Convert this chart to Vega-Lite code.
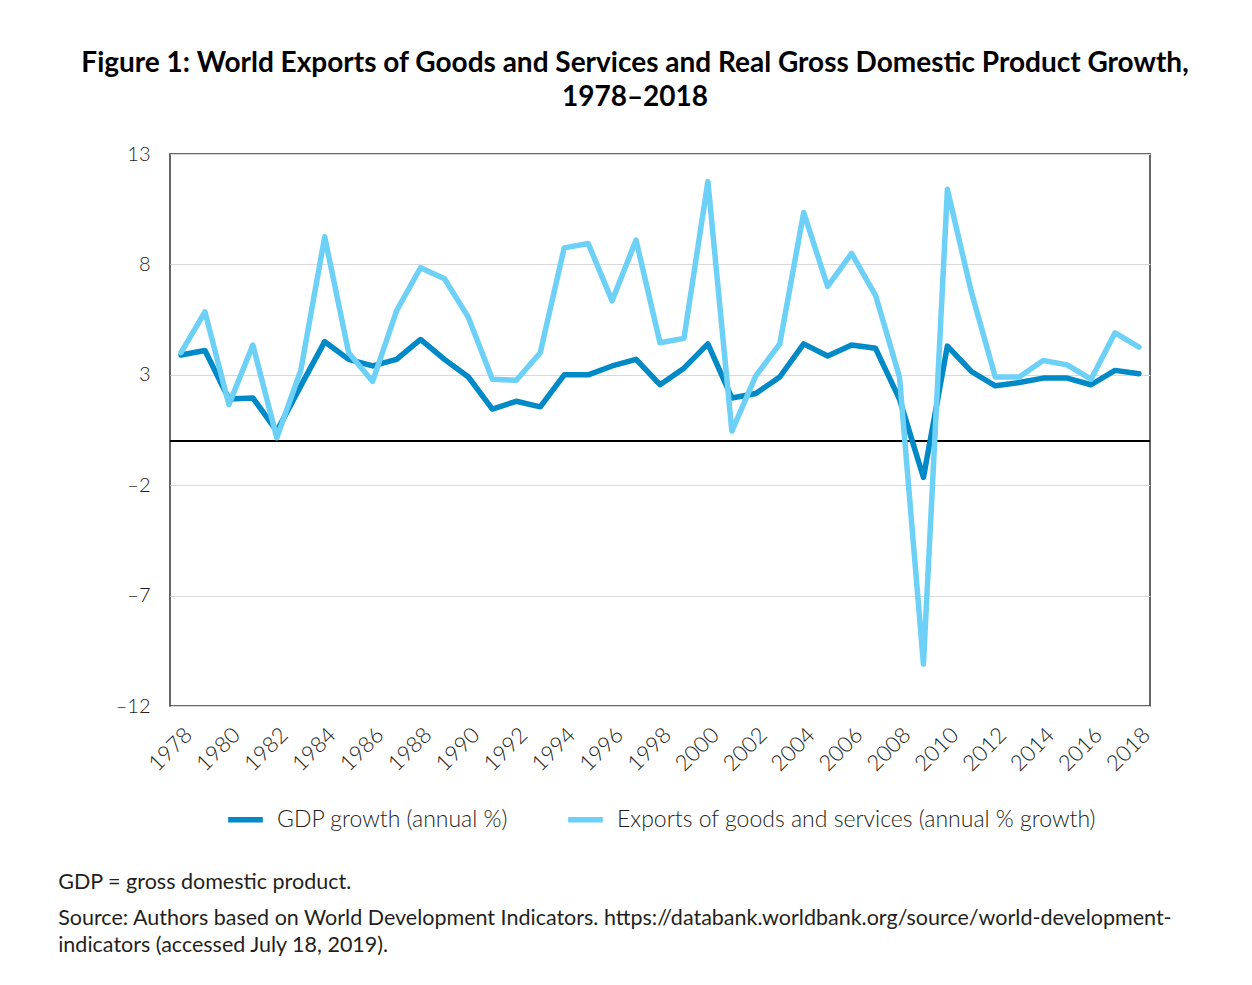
{
  "$schema": "https://vega.github.io/schema/vega-lite/v6.json",
  "background": "white",
  "padding": {"left": 58, "top": 49, "right": 10, "bottom": 10},
  "title": {
    "text": "GDP = gross domestic product.",
    "subtitle": ["Source: Authors based on World Development Indicators. https://databank.worldbank.org/source/world-development-", "indicators (accessed July 18, 2019)."],
    "orient": "bottom",
    "anchor": "start",
    "dx": -22,
    "font": "Lato",
    "fontSize": 21.5,
    "fontWeight": "normal",
    "color": "#231f20",
    "subtitleFont": "Lato",
    "subtitleFontSize": 21.5,
    "subtitleColor": "#231f20",
    "subtitleLineHeight": 27,
    "subtitlePadding": 14,
    "offset": 40
  },
  "vconcat": [
    {
      "width": 980,
      "height": 552,
      "title": {
        "text": ["Figure 1: World Exports of Goods and Services and Real Gross Domestic Product Growth,", "1978–2018"],
        "font": "Lato",
        "fontSize": 28,
        "fontWeight": "bold",
        "color": "#000000",
        "anchor": "middle",
        "dx": -25,
        "lineHeight": 34,
        "offset": 32
      },
      "data": {
        "values": [
          {"year": 1978, "series": "GDP growth (annual %)", "value": 3.9},
          {"year": 1979, "series": "GDP growth (annual %)", "value": 4.1},
          {"year": 1980, "series": "GDP growth (annual %)", "value": 1.9},
          {"year": 1981, "series": "GDP growth (annual %)", "value": 1.95},
          {"year": 1982, "series": "GDP growth (annual %)", "value": 0.45},
          {"year": 1983, "series": "GDP growth (annual %)", "value": 2.5},
          {"year": 1984, "series": "GDP growth (annual %)", "value": 4.5},
          {"year": 1985, "series": "GDP growth (annual %)", "value": 3.7},
          {"year": 1986, "series": "GDP growth (annual %)", "value": 3.4},
          {"year": 1987, "series": "GDP growth (annual %)", "value": 3.7},
          {"year": 1988, "series": "GDP growth (annual %)", "value": 4.6},
          {"year": 1989, "series": "GDP growth (annual %)", "value": 3.7},
          {"year": 1990, "series": "GDP growth (annual %)", "value": 2.9},
          {"year": 1991, "series": "GDP growth (annual %)", "value": 1.45},
          {"year": 1992, "series": "GDP growth (annual %)", "value": 1.8},
          {"year": 1993, "series": "GDP growth (annual %)", "value": 1.55},
          {"year": 1994, "series": "GDP growth (annual %)", "value": 3.0},
          {"year": 1995, "series": "GDP growth (annual %)", "value": 3.0},
          {"year": 1996, "series": "GDP growth (annual %)", "value": 3.4},
          {"year": 1997, "series": "GDP growth (annual %)", "value": 3.7},
          {"year": 1998, "series": "GDP growth (annual %)", "value": 2.55},
          {"year": 1999, "series": "GDP growth (annual %)", "value": 3.3},
          {"year": 2000, "series": "GDP growth (annual %)", "value": 4.4},
          {"year": 2001, "series": "GDP growth (annual %)", "value": 1.95},
          {"year": 2002, "series": "GDP growth (annual %)", "value": 2.15},
          {"year": 2003, "series": "GDP growth (annual %)", "value": 2.9},
          {"year": 2004, "series": "GDP growth (annual %)", "value": 4.4},
          {"year": 2005, "series": "GDP growth (annual %)", "value": 3.85},
          {"year": 2006, "series": "GDP growth (annual %)", "value": 4.35},
          {"year": 2007, "series": "GDP growth (annual %)", "value": 4.2},
          {"year": 2008, "series": "GDP growth (annual %)", "value": 1.9},
          {"year": 2009, "series": "GDP growth (annual %)", "value": -1.65},
          {"year": 2010, "series": "GDP growth (annual %)", "value": 4.3},
          {"year": 2011, "series": "GDP growth (annual %)", "value": 3.15},
          {"year": 2012, "series": "GDP growth (annual %)", "value": 2.5},
          {"year": 2013, "series": "GDP growth (annual %)", "value": 2.65},
          {"year": 2014, "series": "GDP growth (annual %)", "value": 2.85},
          {"year": 2015, "series": "GDP growth (annual %)", "value": 2.85},
          {"year": 2016, "series": "GDP growth (annual %)", "value": 2.55},
          {"year": 2017, "series": "GDP growth (annual %)", "value": 3.2},
          {"year": 2018, "series": "GDP growth (annual %)", "value": 3.05},
          {"year": 1978, "series": "Exports of goods and services (annual % growth)", "value": 4.0},
          {"year": 1979, "series": "Exports of goods and services (annual % growth)", "value": 5.85},
          {"year": 1980, "series": "Exports of goods and services (annual % growth)", "value": 1.65},
          {"year": 1981, "series": "Exports of goods and services (annual % growth)", "value": 4.35},
          {"year": 1982, "series": "Exports of goods and services (annual % growth)", "value": 0.15},
          {"year": 1983, "series": "Exports of goods and services (annual % growth)", "value": 3.2},
          {"year": 1984, "series": "Exports of goods and services (annual % growth)", "value": 9.25},
          {"year": 1985, "series": "Exports of goods and services (annual % growth)", "value": 4.0},
          {"year": 1986, "series": "Exports of goods and services (annual % growth)", "value": 2.7},
          {"year": 1987, "series": "Exports of goods and services (annual % growth)", "value": 5.9},
          {"year": 1988, "series": "Exports of goods and services (annual % growth)", "value": 7.85},
          {"year": 1989, "series": "Exports of goods and services (annual % growth)", "value": 7.35},
          {"year": 1990, "series": "Exports of goods and services (annual % growth)", "value": 5.6},
          {"year": 1991, "series": "Exports of goods and services (annual % growth)", "value": 2.8},
          {"year": 1992, "series": "Exports of goods and services (annual % growth)", "value": 2.75},
          {"year": 1993, "series": "Exports of goods and services (annual % growth)", "value": 4.0},
          {"year": 1994, "series": "Exports of goods and services (annual % growth)", "value": 8.75},
          {"year": 1995, "series": "Exports of goods and services (annual % growth)", "value": 8.95},
          {"year": 1996, "series": "Exports of goods and services (annual % growth)", "value": 6.35},
          {"year": 1997, "series": "Exports of goods and services (annual % growth)", "value": 9.1},
          {"year": 1998, "series": "Exports of goods and services (annual % growth)", "value": 4.45},
          {"year": 1999, "series": "Exports of goods and services (annual % growth)", "value": 4.65},
          {"year": 2000, "series": "Exports of goods and services (annual % growth)", "value": 11.75},
          {"year": 2001, "series": "Exports of goods and services (annual % growth)", "value": 0.45},
          {"year": 2002, "series": "Exports of goods and services (annual % growth)", "value": 2.95},
          {"year": 2003, "series": "Exports of goods and services (annual % growth)", "value": 4.4},
          {"year": 2004, "series": "Exports of goods and services (annual % growth)", "value": 10.35},
          {"year": 2005, "series": "Exports of goods and services (annual % growth)", "value": 7.0},
          {"year": 2006, "series": "Exports of goods and services (annual % growth)", "value": 8.5},
          {"year": 2007, "series": "Exports of goods and services (annual % growth)", "value": 6.6},
          {"year": 2008, "series": "Exports of goods and services (annual % growth)", "value": 2.9},
          {"year": 2009, "series": "Exports of goods and services (annual % growth)", "value": -10.1},
          {"year": 2010, "series": "Exports of goods and services (annual % growth)", "value": 11.4},
          {"year": 2011, "series": "Exports of goods and services (annual % growth)", "value": 6.75},
          {"year": 2012, "series": "Exports of goods and services (annual % growth)", "value": 2.9},
          {"year": 2013, "series": "Exports of goods and services (annual % growth)", "value": 2.9},
          {"year": 2014, "series": "Exports of goods and services (annual % growth)", "value": 3.65},
          {"year": 2015, "series": "Exports of goods and services (annual % growth)", "value": 3.45},
          {"year": 2016, "series": "Exports of goods and services (annual % growth)", "value": 2.8},
          {"year": 2017, "series": "Exports of goods and services (annual % growth)", "value": 4.9},
          {"year": 2018, "series": "Exports of goods and services (annual % growth)", "value": 4.25}
        ]
      },
      "layer": [
        {
          "mark": {"type": "rule", "color": "#000000", "strokeWidth": 1.2},
          "encoding": {"y": {"datum": 0, "type": "quantitative"}}
        },
        {
          "mark": {"type": "line", "strokeWidth": 5.5, "strokeJoin": "round", "strokeCap": "round"},
          "encoding": {
            "x": {
              "field": "year",
              "type": "quantitative",
              "scale": {"domain": [1977.54, 2018.46], "nice": false, "zero": false},
              "axis": {
                "title": null,
                "values": [1978, 1980, 1982, 1984, 1986, 1988, 1990, 1992, 1994, 1996, 1998, 2000, 2002, 2004, 2006, 2008, 2010, 2012, 2014, 2016, 2018],
                "format": "d",
                "labelAngle": -45,
                "labelFontSize": 22,
                "labelFontWeight": 300,
                "labelOverlap": false,
                "labelBound": false,
                "labelDx": -4,
                "grid": false,
                "ticks": false,
                "domain": false,
                "labelPadding": 18
              }
            },
            "y": {
              "field": "value",
              "type": "quantitative",
              "scale": {"domain": [-12, 13], "nice": false, "zero": false},
              "axis": {
                "title": null,
                "values": [-12, -7, -2, 3, 8, 13],
                "grid": true,
                "ticks": false,
                "domain": false,
                "labelPadding": 20,
                "labelFontWeight": 300,
                "labelExpr": "datum.value < 0 ? '–' + abs(datum.value) : datum.label"
              }
            },
            "color": {
              "field": "series",
              "type": "nominal",
              "scale": {
                "domain": ["GDP growth (annual %)", "Exports of goods and services (annual % growth)"],
                "range": ["#0089c7", "#6dd0f7"]
              },
              "legend": {
                "title": null,
                "orient": "bottom",
                "direction": "horizontal",
                "symbolType": "stroke",
                "symbolStrokeWidth": 5.5,
                "symbolSize": 1200,
                "labelFontSize": 23,
                "labelFontWeight": 300,
                "labelOffset": 11,
                "columnPadding": 48,
                "offset": 23
              }
            }
          }
        }
      ]
    }
  ],
  "config": {
    "font": "Lato",
    "view": {"stroke": "#333333", "strokeWidth": 1.5},
    "axis": {
      "labelFont": "Lato",
      "labelFontSize": 20,
      "labelColor": "#231f20",
      "gridColor": "#d9d9d9",
      "gridWidth": 1
    },
    "legend": {
      "labelFont": "Lato",
      "labelColor": "#231f20",
      "labelLimit": 600,
      "layout": {"bottom": {"anchor": "middle"}}
    }
  }
}
